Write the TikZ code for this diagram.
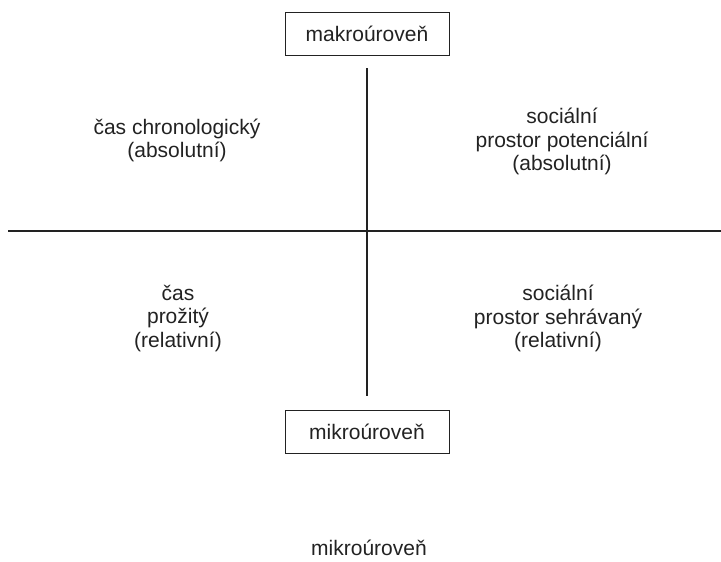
\documentclass[tikz,border=0pt]{standalone}
\usepackage{fontspec}
\setmainfont{Liberation Sans}
\usepackage{tikz}
\usetikzlibrary{calc}
\definecolor{ink}{HTML}{222222}
\tikzstyle{level}=[draw=ink, line width=0.9pt, inner sep=0pt,% boxed level label
minimum width=164pt, minimum height=43pt]
\tikzstyle{quad}=[align=center, inner sep=0pt]
\tikzstyle{axis}=[draw=ink, line width=1.3pt]

\begin{document}
\begin{tikzpicture}[x=1pt, y=-1pt, text=ink,
  font=\fontsize{21}{23.5}\selectfont]
\useasboundingbox (0,0) rectangle (721,562);
\node[level] (makro) at (367,33.5) {makroúroveň};
\node[level] (mikro) at (367,431.5) {mikroúroveň};
\coordinate (left) at (8,231);
\coordinate (right) at (721,231);

\node[quad] (chrono) at (177,140.5) {čas chronologický\\(absolutní)};
\node[quad] (potenc) at (562,141.5) {sociální\\prostor potenciální\\(absolutní)};
\node[quad] (prozit) at (178,318.5) {čas\\prožitý\\(relativní)};
\node[quad] (sehrav) at (558,318.5) {sociální\\prostor sehrávaný\\(relativní)};

\node[inner sep=0pt, anchor=base] (dole) at (369,555) {mikroúroveň};

\draw[axis, shorten <=13pt, shorten >=14pt] (makro) -- (mikro);
\draw[axis] (left) -- (right);
\end{tikzpicture}
\end{document}
